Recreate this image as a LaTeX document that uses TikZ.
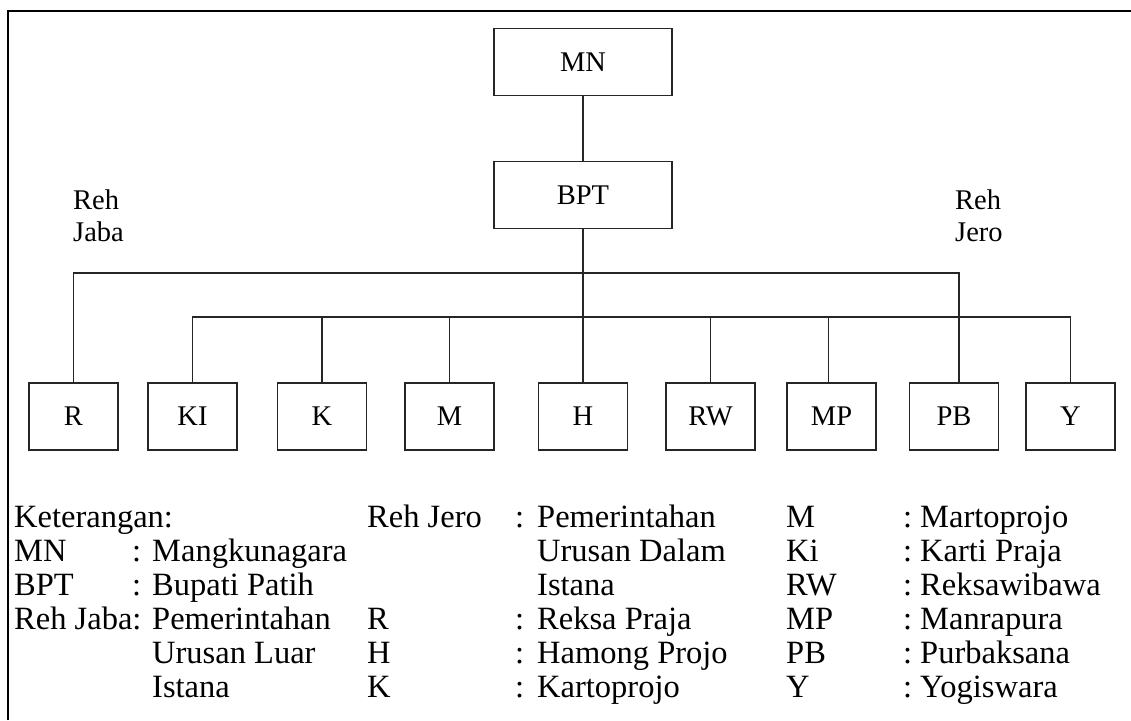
\documentclass[tikz,border=0pt]{standalone}
\usepackage{fontspec}
\setmainfont{Liberation Serif}
\begin{document}
\begin{tikzpicture}[x=1pt,y=-1pt,
  box/.style={draw=black!85, line width=1.3pt, minimum width=89pt, minimum height=67pt, inner sep=0pt, font=\fontsize{28.5}{30}\selectfont},
  bigbox/.style={box, minimum width=178pt, minimum height=67pt},
  conn/.style={draw=black!85, line width=1.3pt},
  side/.style={anchor=west, inner sep=0pt, align=left, font=\fontsize{28.5}{32}\selectfont},
  lg/.style={anchor=base west, inner sep=0pt, font=\fontsize{32.5}{35}\selectfont}]
\useasboundingbox (0,0) rectangle (1131,720);
\draw[line width=2.2pt] (8,720) -- (8,11) -- (1131,11);

% top boxes
\node[bigbox] (mn) at (583,62) {MN};
\node[bigbox] (bpt) at (583,195) {BPT};

% bottom row
\node[box] (r)  at (73.5,416.5) {R};
\node[box] (ki) at (192.5,416.5) {KI};
\node[box] (k)  at (322,416.5) {K};
\node[box] (m)  at (449.5,416.5) {M};
\node[box] (h)  at (583,416.5) {H};
\node[box] (rw) at (710.5,416.5) {RW};
\node[box] (mp) at (831.5,416.5) {MP};
\node[box] (pb) at (954,416.5) {PB};
\node[box] (y)  at (1070.5,416.5) {Y};

% connectors
\draw[conn] (mn) -- (bpt);
\draw[conn] (bpt) -- (h);
\coordinate (j1L) at (73.5,273);
\coordinate (j1R) at (959,273);
\draw[conn] (r.north) -- (j1L) -- (j1R) -- (j1R |- pb.north);
\coordinate (j2L) at (192.5,317);
\coordinate (j2R) at (1070.5,317);
\draw[conn] (ki.north) -- (j2L) -- (j2R) -- (y.north);
\draw[conn] (k.north) -- (k.north |- j2L);
\draw[conn] (m.north) -- (m.north |- j2L);
\draw[conn] (rw.north) -- (rw.north |- j2L);
\coordinate (mpd) at (828.5,317);
\draw[conn] (mpd) -- (mpd |- mp.north);

% side labels
\node[side] (rehjaba) at (73,216) {Reh\\Jaba};
\node[side] (rehjero) at (955,216) {Reh\\Jero};

% legend column A
\node[lg] (ket) at (14,527) {Keterangan:};
\node[lg] (amn) at (14,561) {MN};
\node[lg] (cmn) at (132,561) {:};
\node[lg] (vmn) at (152,561) {Mangkunagara};
\node[lg] (abpt) at (14,595) {BPT};
\node[lg] (cbpt) at (132,595) {:};
\node[lg] (vbpt) at (152,595) {Bupati Patih};
\node[lg] (ajaba) at (14,629) {Reh Jaba:};
\node[lg] (vjaba1) at (152,629) {Pemerintahan};
\node[lg] (vjaba2) at (152,663) {Urusan Luar};
\node[lg] (vjaba3) at (152,697) {Istana};

% legend column B
\node[lg] (ajero) at (367,527) {Reh Jero};
\node[lg] (cjero) at (515,527) {:};
\node[lg] (vjero1) at (537,527) {Pemerintahan};
\node[lg] (vjero2) at (537,561) {Urusan Dalam};
\node[lg] (vjero3) at (537,595) {Istana};
\node[lg] (ar) at (367,629) {R};
\node[lg] (cr) at (515,629) {:};
\node[lg] (vr) at (537,629) {Reksa Praja};
\node[lg] (ah) at (367,663) {H};
\node[lg] (ch) at (515,663) {:};
\node[lg] (vh) at (537,663) {Hamong Projo};
\node[lg] (ak) at (367,697) {K};
\node[lg] (ck) at (515,697) {:};
\node[lg] (vk) at (537,697) {Kartoprojo};

% legend column C
\node[lg] (am) at (786,527) {M};
\node[lg] (cm) at (903,527) {:};
\node[lg] (vm) at (920,527) {Martoprojo};
\node[lg] (aki) at (786,561) {Ki};
\node[lg] (cki) at (903,561) {:};
\node[lg] (vki) at (920,561) {Karti Praja};
\node[lg] (arw) at (786,595) {RW};
\node[lg] (crw) at (903,595) {:};
\node[lg] (vrw) at (920,595) {Reksawibawa};
\node[lg] (amp) at (786,629) {MP};
\node[lg] (cmp) at (903,629) {:};
\node[lg] (vmp) at (920,629) {Manrapura};
\node[lg] (apb) at (786,663) {PB};
\node[lg] (cpb) at (903,663) {:};
\node[lg] (vpb) at (920,663) {Purbaksana};
\node[lg] (ay) at (786,697) {Y};
\node[lg] (cy) at (903,697) {:};
\node[lg] (vy) at (920,697) {Yogiswara};
\end{tikzpicture}
\end{document}
